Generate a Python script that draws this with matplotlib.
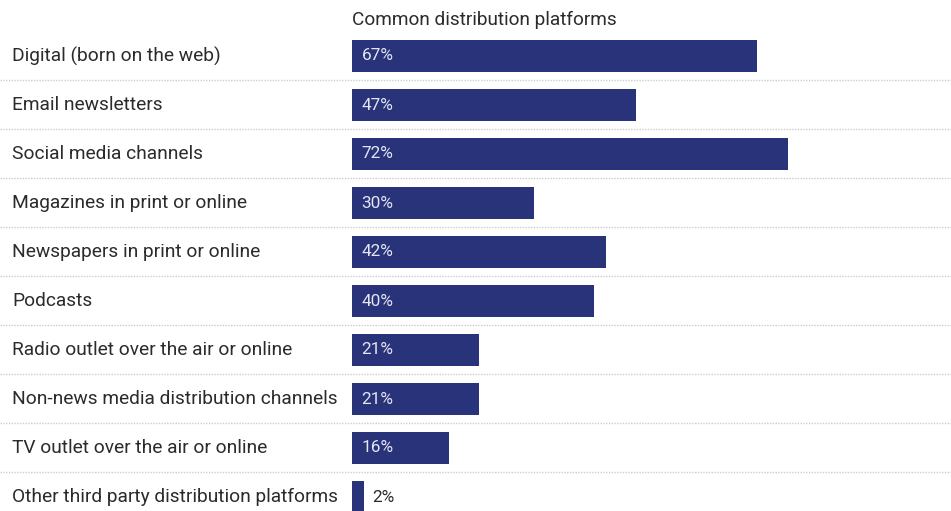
import matplotlib.pyplot as plt
from matplotlib.transforms import blended_transform_factory

plt.rcParams['font.family'] = ['Roboto', 'DejaVu Sans']

# Share of outlets using each distribution platform
platforms = [
    'Digital (born on the web)',
    'Email newsletters',
    'Social media channels',
    'Magazines in print or online',
    'Newspapers in print or online',
    'Podcasts',
    'Radio outlet over the air or online',
    'Non-news media distribution channels',
    'TV outlet over the air or online',
    'Other third party distribution platforms',
]
shares = [67, 47, 72, 30, 42, 40, 21, 21, 16, 2]
header = 'Common distribution platforms'

bar_color = '#28337a'
text_color = '#2b2b2b'

fig = plt.figure(figsize=(9.51, 5.11), dpi=100)
ax = fig.add_axes([352 / 951, 0, 1 - 352 / 951, 1])

px_per_unit = 6.05
ax.set_xlim(0, 599 / px_per_unit)
row_px = 49
ax.set_ylim(455 / row_px, -56 / row_px)
ax.axis('off')

rows = list(range(len(platforms)))
ax.barh(rows, shares, height=32 / row_px, color=bar_color, left=0)

fig_x = blended_transform_factory(fig.transFigure, ax.transData)

for i, (name, val) in enumerate(zip(platforms, shares)):
    ax.text(12 / 951, i, name, transform=fig_x, ha='left', va='center',
            fontsize=13.8, color=text_color)
    if val >= 10:
        ax.text(1.6, i, f'{val}%', ha='left', va='center',
                fontsize=12.4, color='#e4e6f2')
    else:
        ax.text(val + 1.3, i, f'{val}%', ha='left', va='center',
                fontsize=12.4, color=text_color)

# dotted separators between the rows, across the whole width
for i in rows[:-1]:
    ax.plot([0, 1], [i + 0.5, i + 0.5], transform=fig_x, clip_on=False,
            color='#cccccc', linewidth=1.0, linestyle=(0, (1, 1)))

ax.text(0, -0.74, header, ha='left', va='center', fontsize=13.7,
        color=text_color)

fig.savefig('out.png', dpi=100, facecolor='white')
